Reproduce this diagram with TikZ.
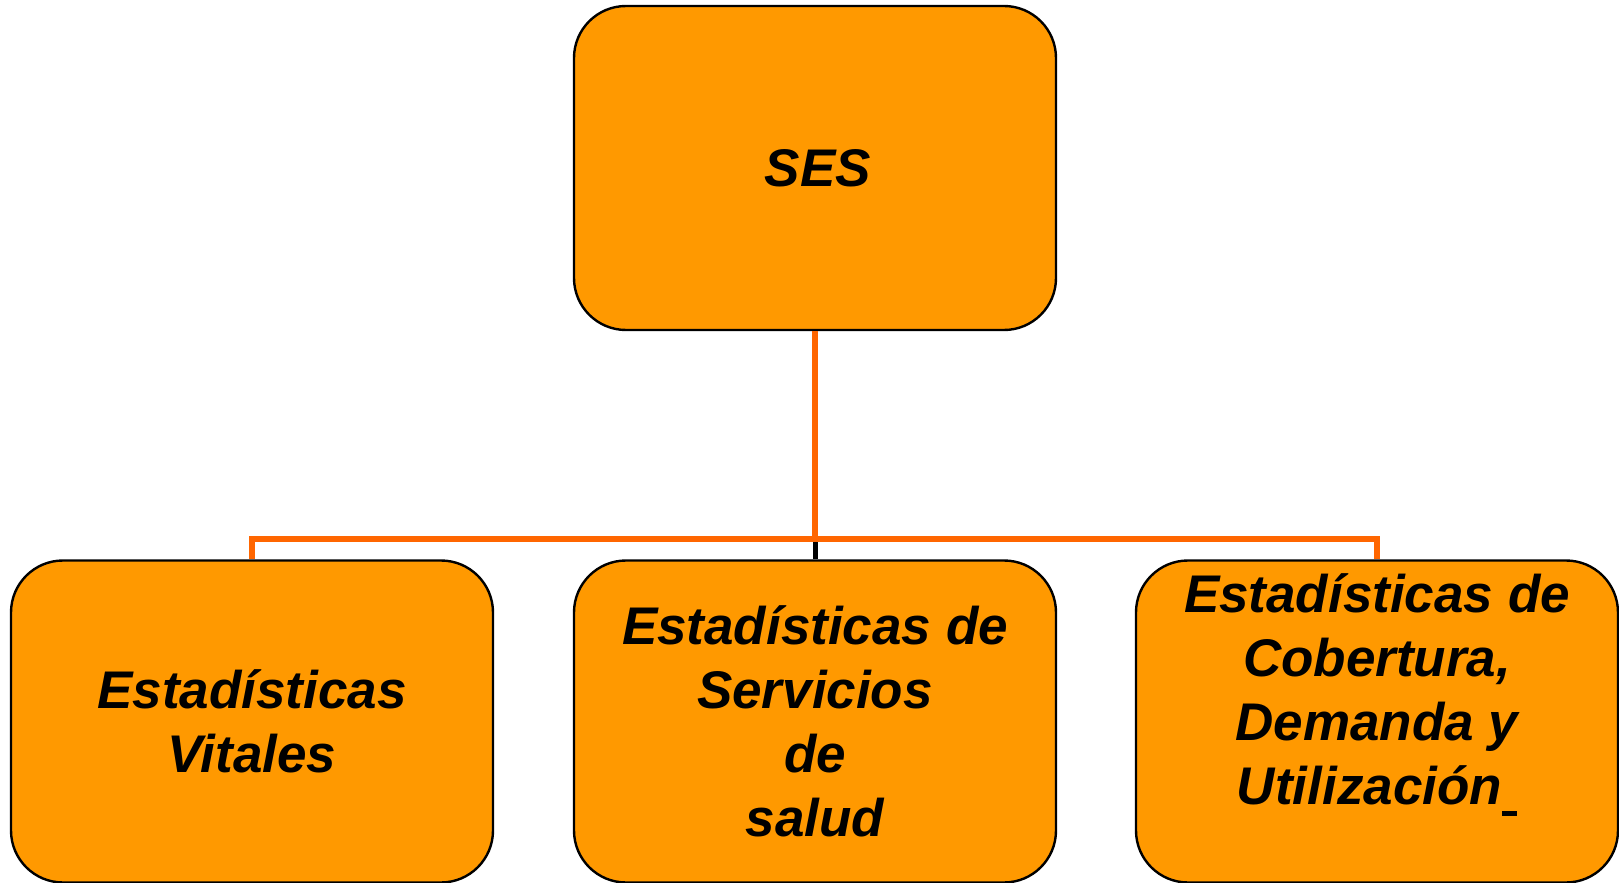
\documentclass[tikz,border=0pt]{standalone}
\usepackage{fontspec}
\setmainfont{Liberation Sans}
\usetikzlibrary{positioning}

\definecolor{boxfill}{RGB}{255,153,0}
\definecolor{linkorange}{RGB}{255,102,0}

\tikzset{
  sesbox/.style={draw=black, line width=1.2pt, fill=boxfill, rounded corners=26pt,
    minimum width=241pt, minimum height=161pt, align=center, inner sep=0pt,
    font=\fontsize{26.5}{32}\selectfont\bfseries\itshape},
  orangelink/.style={draw=linkorange, line width=3pt},
  blacklink/.style={draw=black, line width=2.5pt}
}

\begin{document}
\begin{tikzpicture}[x=0.5pt,y=-0.5pt]
  \useasboundingbox (0,0) rectangle (1619,883);

  % root and the three branches
  \node[sesbox, minimum height=162pt] (ses) at (815,168) {\hspace*{3pt}SES};
  \node[sesbox] (vitales) at (252,721.5) {Estadísticas\\Vitales};
  \node[sesbox] (servicios) at (815,721.5) {Estadísticas de\\Servicios\\de\\salud};
  \node[sesbox] (cobertura) at (1377,721.5)
    {Estadísticas de\\Cobertura,\\Demanda y\\Utilización\rule[-5.5pt]{7.5pt}{2.5pt}\\\mbox{}};

  % connectors
  \coordinate (bar) at (815,539);
  \draw[blacklink] (bar) -- (servicios.north);
  \draw[orangelink] (ses.south) -- (bar);
  \draw[orangelink] (vitales.north) |- (bar) -| (cobertura.north);

\end{tikzpicture}
\end{document}
